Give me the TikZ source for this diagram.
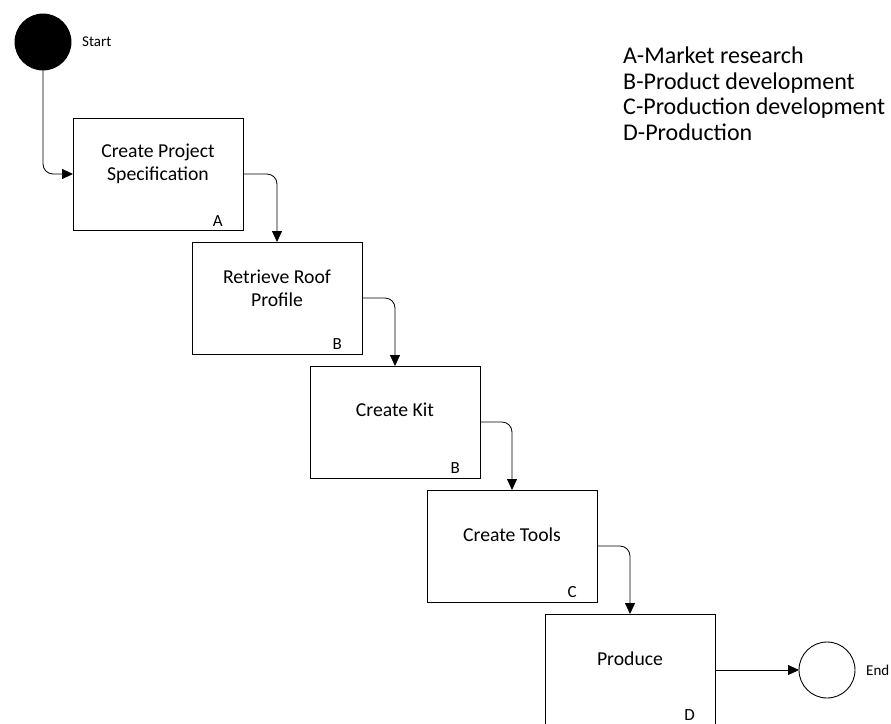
\documentclass[tikz,border=0pt]{standalone}
\usepackage{fontspec}
\setmainfont{Carlito}
\usetikzlibrary{arrows.meta,positioning}

\begin{document}
\begin{tikzpicture}[
  x=1pt, y=1pt, >={Triangle[length=11pt,width=10pt]},
  task/.style={draw, line width=0.9pt, minimum width=170pt, minimum height=112pt, inner sep=0pt, outer sep=0pt},
  tasktext/.style={align=center, font=\fontsize{19.7}{23}\selectfont, inner sep=0pt},
  tag/.style={font=\fontsize{17}{18}\selectfont, inner sep=0pt},
  event/.style={circle, draw, line width=0.9pt, minimum size=56pt, inner sep=0pt, outer sep=0pt},
  evlabel/.style={font=\fontsize{15}{18}\selectfont, inner sep=0pt},
  flow/.style={->, line width=0.8pt, rounded corners=10pt}]
  \path[use as bounding box] (0,0) rectangle (891,-723);

  % start / end events
  \node[event, fill=black] (start) at (43,-42) {};
  \node[evlabel, right=11pt of start] (startlbl) {Start};

  % process steps
  \node[task, anchor=north west] (a) at (73,-118) {};
  \node[task, below right=12pt and -51pt of a] (b) {};
  \node[task, below right=12pt and -52pt of b] (c) {};
  \node[task, below right=12pt and -53pt of c] (d) {};
  \node[task, below right=12pt and -52pt of d] (e) {};

  \node[tasktext] (atext) at ([yshift=10pt]a.center) {Create Project\\Specification};
  \node[tasktext] (btext) at ([yshift=10pt]b.center) {Retrieve Roof\\Profile};
  \node[tasktext] (ctext) at ([yshift=12pt]c.center) {Create Kit};
  \node[tasktext] (dtext) at ([yshift=11pt]d.center) {Create Tools};
  \node[tasktext] (etext) at ([yshift=11pt]e.center) {Produce};

  \node[tag, above left=3pt and 20pt of a.south east] (atag) {A};
  \node[tag, above left=4pt and 20pt of b.south east] (btag) {B};
  \node[tag, above left=4pt and 20pt of c.south east] (ctag) {B};
  \node[tag, above left=4pt and 20pt of d.south east] (dtag) {C};

  \node[event, right=84pt of e] (end) {};
  \node[evlabel, right=11pt of end] (endlbl) {End};
  \node[tag, anchor=south east] (etag) at ([xshift=-20pt,yshift=-106.5pt]e.north east) {D};

  \draw[flow] (start.south) |- (a.west);
  \draw[flow] (a.east) -| (b.north);
  \draw[flow] (b.east) -| (c.north);
  \draw[flow] (c.east) -| (d.north);
  \draw[flow] (d.east) -| (e.north);
  \draw[flow] (e.east) -- (end.west);

  % legend
  \node[anchor=north west, align=left, inner sep=0pt,
        font=\fontsize{24}{25.5}\selectfont] (key) at (623,-47)
    {A-Market research\\B-Product development\\C-Production development\\D-Production};
\end{tikzpicture}
\end{document}
